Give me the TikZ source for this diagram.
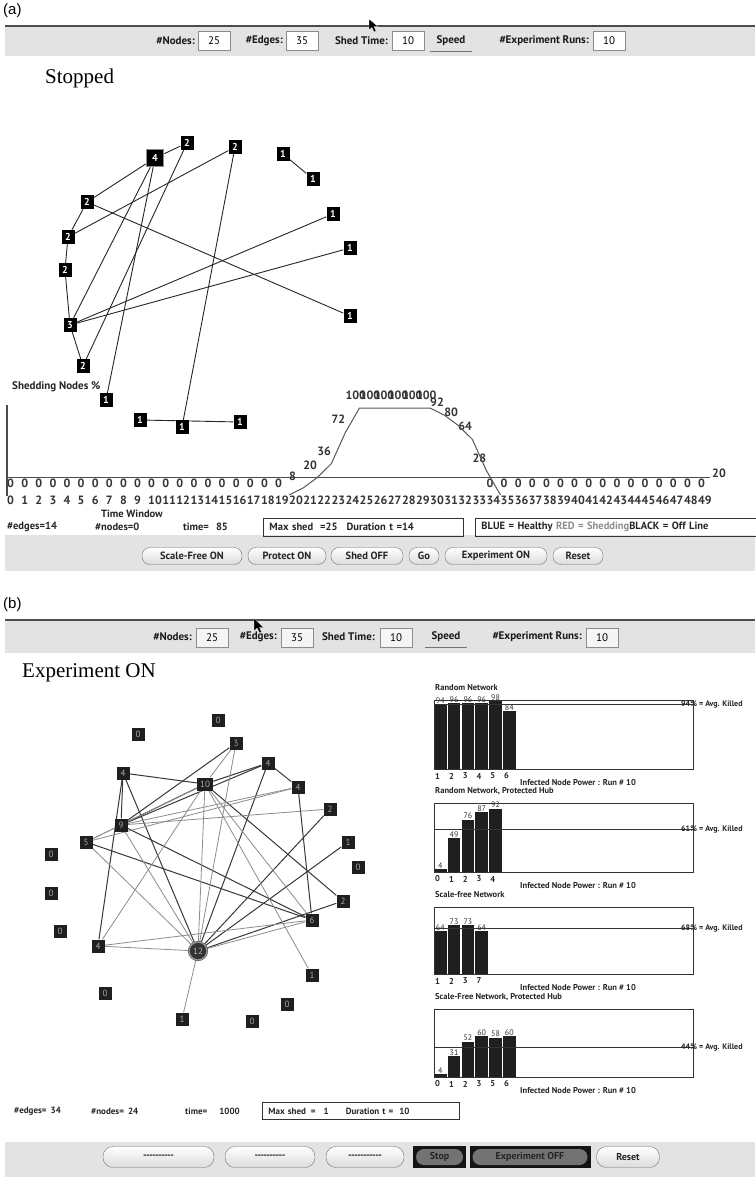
\documentclass[tikz,border=0pt]{standalone}
\usepackage{fontspec}
\setmainfont{Liberation Serif}
\newfontfamily\uifont{PT Sans}
\newfontfamily\capfont{Liberation Sans}
\pgfdeclarelayer{bg}
\pgfdeclarelayer{edges}
\pgfsetlayers{bg,edges,main}

\tikzset{
  band/.style={fill=black!11},
  bandline/.style={draw=black!70, line width=1.2pt},
  lbl/.style={inner sep=0pt, font=\uifont\bfseries\fontsize{11}{13}\selectfont, text=black!90},
  fieldbox/.style={draw=black!45, fill=white, minimum width=32pt, minimum height=19pt, inner sep=0pt,
    font=\uifont\fontsize{11}{13}\selectfont, text=black},
  fieldgray/.style={fieldbox, fill=black!4},
  speedbtn/.style={inner sep=0pt, minimum width=42pt, minimum height=20pt,
    font=\uifont\bfseries\fontsize{11}{13}\selectfont, text=black!90},
  speedline/.style={draw=black!55, line width=1.2pt},
  btn/.style={draw=black!55, rounded corners=8pt, top color=white, bottom color=black!14,
    minimum height=17pt, inner sep=0pt, font=\uifont\bfseries\fontsize{10.5}{13}\selectfont, text=black!85},
  btnb/.style={btn, minimum height=21pt, rounded corners=10pt, font=\uifont\bfseries\fontsize{10}{12}\selectfont},
  darkbtn/.style={fill=black!92, minimum height=22pt, inner sep=0pt, text=black!85,
    font=\uifont\bfseries\fontsize{10}{12}\selectfont,
    path picture={\fill[black!55, rounded corners=8pt]
      ([shift={(3pt,-3pt)}]path picture bounding box.north west) rectangle
      ([shift={(-3pt,3pt)}]path picture bounding box.south east);}},
  title/.style={inner sep=0pt, anchor=west, font=\fontsize{21}{24}\selectfont},
  paneltag/.style={inner sep=0pt, anchor=west, font=\capfont\fontsize{15}{17}\selectfont},
  ga/.style={fill=black, text=white, minimum width=13pt, minimum height=14pt, inner sep=0pt,
    font=\uifont\bfseries\fontsize{10}{10}\selectfont},
  gahub/.style={ga, draw=black!45, line width=1.5pt, minimum width=17pt, minimum height=17pt},
  gb/.style={fill=black!88, text=black!35, minimum width=13pt, minimum height=13pt, inner sep=0pt,
    font=\uifont\fontsize{9}{9}\selectfont},
  gbhub/.style={circle, fill=black!80, draw=black!75, double=black!40, double distance=1.2pt,
    minimum size=18pt, inner sep=0pt, text=black!30, font=\uifont\fontsize{9}{9}\selectfont},
  edgea/.style={draw=black!85, line width=0.9pt},
  edged/.style={draw=black!78, line width=1pt},
  edgel/.style={draw=black!45, line width=0.8pt},
  tick/.style={anchor=west, inner sep=0pt, font=\uifont\bfseries\fontsize{12}{13}\selectfont, text=black!80},
  curve/.style={draw=black!65, line width=1pt},
  axis/.style={draw=black!70, line width=1pt},
  rowtxt/.style={inner sep=0pt, font=\uifont\bfseries\fontsize{10.5}{13}\selectfont, text=black!85},
  rowtxtb/.style={inner sep=0pt, font=\uifont\bfseries\fontsize{9}{11}\selectfont, text=black!85},
  infobox/.style={draw=black!80, line width=0.9pt, minimum height=18pt, inner xsep=6pt, inner ysep=0pt,
    anchor=west, align=left, font=\uifont\bfseries\fontsize{10.5}{13}\selectfont, text=black!85},
  infoboxb/.style={infobox, minimum height=17pt, font=\uifont\bfseries\fontsize{9}{11}\selectfont},
  boxline/.style={draw=black!80, line width=1pt},
  bar/.style={fill=black!88},
  ctitle/.style={anchor=west, inner sep=0pt, font=\uifont\bfseries\fontsize{8.5}{9}\selectfont, text=black!85},
  cnum/.style={anchor=west, inner sep=0pt, font=\uifont\bfseries\fontsize{8.5}{9}\selectfont, text=black!85},
  barval/.style={inner sep=0pt, font=\uifont\fontsize{8}{8}\selectfont, text=black!80},
  cavg/.style={anchor=west, inner sep=0pt, font=\uifont\bfseries\fontsize{8}{9}\selectfont, text=black!85},
  cfoot/.style={anchor=west, inner sep=0pt, font=\uifont\bfseries\fontsize{8.5}{9}\selectfont, text=black!85},
  pointer/.style={fill=black, draw=white, line width=0.3pt},
}

% bar chart: #1 top, #2 bottom, #3 bar values, #4 axis labels, #5 average, #6 title, #7 name prefix
\newcommand{\drawchart}[7]{%
  \node[ctitle] (#7title) at (435,#1-12) {#6};
  \foreach \v [count=\k from 0] in {#3} {
    \fill[bar] ({434+13.8*\k},#2) rectangle ({446.6+13.8*\k},{#2-(#2-#1)*\v/100});
    \node[barval] at ({440.3+13.8*\k},{#2-(#2-#1)*\v/100-3.5}) {\v};
  }
  \draw[boxline] (434,#1) rectangle (693,#2);
  \draw[boxline] (434,{#2-(#2-#1)*#5/100}) -- (693,{#2-(#2-#1)*#5/100});
  \node[cavg] (#7avg) at (681,{#2-(#2-#1)*#5/100}) {#5\% = Avg. Killed};
  \foreach \t [count=\k from 0] in {#4} \node[cnum] at ({435+13.8*\k},#2+7) {\t};
  \node[cfoot] (#7foot) at (520,#2+13.5) {Infected Node Power : Run \# 10};
}

\begin{document}
\begin{tikzpicture}[x=1pt,y=-1pt]
\begin{pgfonlayer}{bg}
  \fill[white] (0,0) rectangle (755,1177);
  % window bands
  \fill[band] (5,26) rectangle (755,56);
  \fill[band] (5,535) rectangle (755,571);
  \fill[band] (5,620) rectangle (755,653);
  \fill[band] (5,1142) rectangle (755,1177);
\end{pgfonlayer}
\useasboundingbox (0,0) rectangle (755,1177);

% ---------------- panel (a) ----------------
\node[paneltag] (tagA) at (3,11) {(a)};
\draw[bandline] (5,26) -- (755,26);
\node[lbl, anchor=east] (nA) at (195,41) {\#Nodes:};
\node[fieldbox] (fA1) at (214,41) {25};
\node[lbl, anchor=east] (eA) at (283,41) {\#Edges:};
\node[fieldbox] (fA2) at (302,41) {35};
\node[lbl, anchor=east] (sA) at (388,41) {Shed Time:};
\node[fieldbox] (fA3) at (408,41) {10};
\node[speedbtn] (spA) at (451,41) {Speed};
\draw[speedline] (spA.south west) -- (spA.south east);
\node[lbl, anchor=east] (rA) at (589,41) {\#Experiment Runs:};
\node[fieldbox] (fA4) at (609,41) {10};
\fill[pointer] (369,19) -- (369,30) -- (372,27.5) -- (374,32) -- (376,31) -- (374,26.5) -- (378,26.5) -- cycle;

\node[title] (stA) at (45,78) {Stopped};

% network nodes
\node[gahub] (A) at (155,158) {4};
\node[ga] (B) at (187,143) {2};
\node[ga] (C) at (235,147) {2};
\node[ga] (D) at (283,154) {1};
\node[ga] (E) at (313,179) {1};
\node[ga] (F) at (87,202) {2};
\node[ga] (G) at (333,214) {1};
\node[ga] (H) at (68,237) {2};
\node[ga] (I) at (350,248) {1};
\node[ga] (J) at (65,270) {2};
\node[ga] (K) at (70,325) {3};
\node[ga] (L) at (350,316) {1};
\node[ga] (M) at (83,366) {2};
\node[ga] (N) at (106,400) {1};
\node[ga] (O) at (140,420) {1};
\node[ga] (P) at (182,427) {1};
\node[ga] (Q) at (240,422) {1};

\begin{pgfonlayer}{edges}
  \foreach \a/\b in {D/E, A/B, A/F, A/K, A/N, B/M, C/H, C/P, F/H, F/L, H/J, J/K, K/G, K/I, K/M, O/Q}
    \draw[edgea] (\a) -- (\b);
\end{pgfonlayer}

% shedding chart
\node[inner sep=0pt, anchor=west, font=\uifont\bfseries\fontsize{11}{13}\selectfont, text=black!85] (shed) at (12,387) {Shedding Nodes \%};
\draw[axis, line width=2pt] (7,405) -- (7,496);
\draw[axis] (7,477) -- (710,477);
\foreach \i in {0,...,49} \node[tick] at ({7+14.1*\i},500) {\i};
\foreach \i in {0,...,19,34,35,...,49} \node[tick] at ({7+14.1*\i},483) {0};
\foreach \i/\v in {20/8,21/20,22/36,23/72,24/100,25/100,26/100,27/100,28/100,29/100,30/92,31/80,32/64,33/28}
  \node[tick] at ({7+14.1*\i},{483-0.88*\v}) {\v};
\draw[curve] (289,495) -- (303.1,488) -- (317.2,477.6) -- (331.3,463.7) -- (345.4,432.4) -- (359.5,408)
  -- (430,408) -- (444.1,415) -- (458.2,425.4) -- (472.3,439.3) -- (486.4,470.6) -- (500.5,495);
\node[tick] at (712,473) {20};
\node[rowtxt] (tw) at (132,514) {Time Window};

% status row
\node[rowtxt, anchor=west] (edA) at (7,527) {\#edges=14};
\node[rowtxt, anchor=west] (ndA) at (95,527) {\#nodes=0};
\node[rowtxt, anchor=west] (tmA) at (183,527) {time=\hspace{7pt}85};
\node[infobox, text width=188pt] (mxA) at (263,527) {Max shed\hspace{7pt}=25\hspace{9pt}Duration t =14};
\node[infobox, text width=273pt] (lgA) at (475,527) {BLUE = Healthy {\color{black!45}RED = Shedding}BLACK = Off Line};

% buttons
\node[btn, minimum width=100pt] (bA1) at (192,556) {Scale-Free ON};
\node[btn, minimum width=78pt] (bA2) at (287,556) {Protect ON};
\node[btn, minimum width=72pt] (bA3) at (367,556) {Shed OFF};
\node[btn, minimum width=30pt] (bA4) at (424,556) {Go};
\node[btn, minimum width=102pt] (bA5) at (496,556) {Experiment ON};
\node[btn, minimum width=50pt] (bA6) at (578,556) {Reset};

% ---------------- panel (b) ----------------
\node[paneltag] (tagB) at (3,605) {(b)};
\draw[bandline, line width=2pt] (5,620) -- (755,620);
\node[lbl, anchor=east] (nB) at (192,637) {\#Nodes:};
\node[fieldgray] (fB1) at (212,638) {25};
\node[lbl, anchor=east] (eB) at (277,637) {\#Edges:};
\node[fieldgray] (fB2) at (297,638) {35};
\node[lbl, anchor=east] (sB) at (375,637) {Shed Time:};
\node[fieldgray] (fB3) at (396,638) {10};
\node[speedbtn] (spB) at (446,637) {Speed};
\draw[speedline] (spB.south west) -- (spB.south east);
\node[lbl, anchor=east] (rB) at (582,637) {\#Experiment Runs:};
\node[fieldgray] (fB4) at (602,638) {10};
\fill[pointer] (254,618) -- (254,631) -- (257,628) -- (259.5,633) -- (261.5,632) -- (259.5,627.5) -- (263.5,627.5) -- cycle;

\node[title] (exB) at (22,673) {Experiment ON};

% network nodes
\node[gb] (g0a) at (218,720) {0};
\node[gb] (g0b) at (138,734) {0};
\node[gb] (g3) at (236,743) {3};
\node[gb] (g4c) at (268,763) {4};
\node[gb] (g4b) at (123,773) {4};
\node[gb, minimum width=16pt] (g10) at (205,784) {10};
\node[gb] (g4d) at (298,787) {4};
\node[gb] (g2a) at (330,809) {2};
\node[gb] (g9) at (121,825) {9};
\node[gb] (g5) at (86,842) {5};
\node[gb] (g1a) at (348,842) {1};
\node[gb] (g0c) at (51,854) {0};
\node[gb] (g0d) at (358,867) {0};
\node[gb] (g0e) at (51,893) {0};
\node[gb] (g2b) at (343,901) {2};
\node[gb] (g6) at (312,920) {6};
\node[gb] (g0f) at (60,931) {0};
\node[gb] (g4a) at (98,946) {4};
\node[gbhub] (g12) at (198,951) {12};
\node[gb] (g1b) at (312,975) {1};
\node[gb] (g0g) at (105,993) {0};
\node[gb] (g0h) at (287,1004) {0};
\node[gb] (g1c) at (182,1019) {1};
\node[gb] (g0i) at (252,1021) {0};

\begin{pgfonlayer}{edges}
  \foreach \a/\b in {g12/g4b, g12/g4c, g12/g2a, g12/g1a, g12/g2b, g4b/g10, g4b/g4a, g4b/g9,
      g9/g3, g9/g4c, g9/g10, g9/g6, g5/g6, g10/g2b, g4c/g4d, g4d/g6, g10/g4c}
    \draw[edged] (\a) -- (\b);
  \foreach \a/\b in {g12/g4a, g12/g5, g12/g9, g12/g10, g12/g3, g12/g6, g12/g1c, g9/g4d, g9/g2a,
      g9/g5, g5/g10, g5/g4d, g10/g1b, g10/g6, g10/g4a, g10/g3, g4a/g6}
    \draw[edgel] (\a) -- (\b);
\end{pgfonlayer}

% bar charts
\drawchart{700}{769}{94,96,96,96,98,84}{1,2,3,4,5,6}{94}{Random Network}{c1}
\drawchart{803}{872}{4,49,76,87,92}{0,1,2,3,4}{61}{Random Network, Protected Hub}{c2}
\drawchart{907}{974}{64,73,73,64}{1,2,3,7}{68}{Scale-free Network}{c3}
\drawchart{1009}{1077}{4,31,52,60,58,60}{0,1,2,3,5,6}{44}{Scale-Free Network, Protected Hub}{c4}

% status row
\node[rowtxtb, anchor=west] (edB) at (14,1111) {\#edges=\hspace{4pt}34};
\node[rowtxtb, anchor=west] (ndB) at (91,1111) {\#nodes=\hspace{4pt}24};
\node[rowtxtb, anchor=west] (tmB) at (185,1111) {time=\hspace{12pt}1000};
\node[infoboxb, text width=185pt] (mxB) at (262,1111) {Max shed\hspace{5pt}=\hspace{8pt}1\hspace{17pt}Duration t =\hspace{6pt}10};

% buttons
\node[btnb, minimum width=111pt] (bB1) at (158.5,1157) {-{}-{}-{}-{}-{}-{}-{}-{}-{}-};
\node[btnb, minimum width=90pt] (bB2) at (270,1157) {-{}-{}-{}-{}-{}-{}-{}-{}-{}-};
\node[btnb, minimum width=78pt] (bB3) at (365,1157) {-{}-{}-{}-{}-{}-{}-{}-{}-{}-{}-};
\node[darkbtn, minimum width=53pt] (bB4) at (439.5,1157) {Stop};
\node[darkbtn, minimum width=121pt] (bB5) at (530,1157) {Experiment OFF};
\node[btnb, minimum width=63pt] (bB6) at (628,1157) {Reset};
\end{tikzpicture}
\end{document}
